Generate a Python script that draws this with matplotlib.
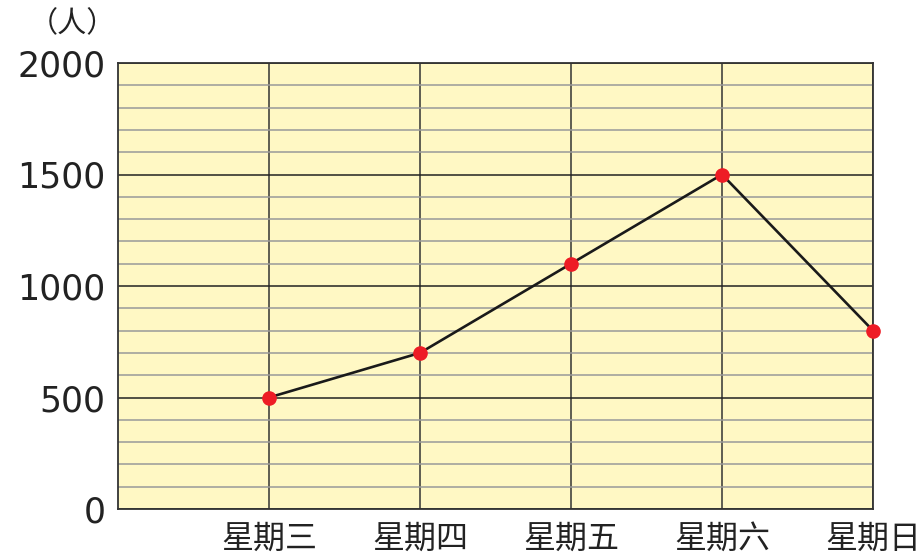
import matplotlib
matplotlib.use("Agg")
import matplotlib.pyplot as plt
from matplotlib.ticker import MultipleLocator

categories = ["星期三", "星期四", "星期五", "星期六", "星期日"]
values = [500, 700, 1100, 1500, 800]
y_ticks = [0, 500, 1000, 1500, 2000]
unit_label = "（人）"

W, H = 923, 555
fig = plt.figure(figsize=(W / 100, H / 100), dpi=100)
ax = fig.add_axes([118 / W, 1 - 509 / H, (873 - 118) / W, (509 - 63) / H])
ax.set_facecolor("#FFF8C4")

x = list(range(1, len(categories) + 1))
ax.set_xlim(0, len(categories))
ax.set_ylim(0, 2000)

# grid
ax.yaxis.set_minor_locator(MultipleLocator(100))
ax.set_yticks(y_ticks)
ax.grid(which="minor", axis="y", color="#999999", linewidth=1.1, zorder=1)
ax.grid(which="major", axis="y", color="#222222", linewidth=1.1, zorder=1.2)
ax.set_xticks(x)
ax.grid(which="major", axis="x", color="#333333", linewidth=1.1, zorder=1.2)

for s in ax.spines.values():
    s.set_color("#333333")
    s.set_linewidth(1.3)

ax.plot(x, values, color="#1a1a1a", linewidth=1.9, zorder=3, clip_on=False)
ax.plot(x, values, linestyle="none", marker="o", markersize=9.5,
        color="#EE1C25", zorder=4, clip_on=False)

ax.set_yticklabels([str(v) for v in y_ticks], fontsize=25,
                   family=["DejaVu Sans"], color="#222222")
ax.set_xticklabels(categories, fontsize=23,
                   family=["Noto Sans CJK TC", "DejaVu Sans"], color="#222222")
ax.tick_params(axis="y", which="both", length=0, pad=9)
ax.tick_params(axis="x", which="both", length=0, pad=10)

fig.text(72 / W, 1 - 24 / H, unit_label, fontsize=21, ha="center", va="center",
         family=["Noto Sans CJK TC", "DejaVu Sans"], color="#222222")

fig.savefig("out.png", dpi=100)
